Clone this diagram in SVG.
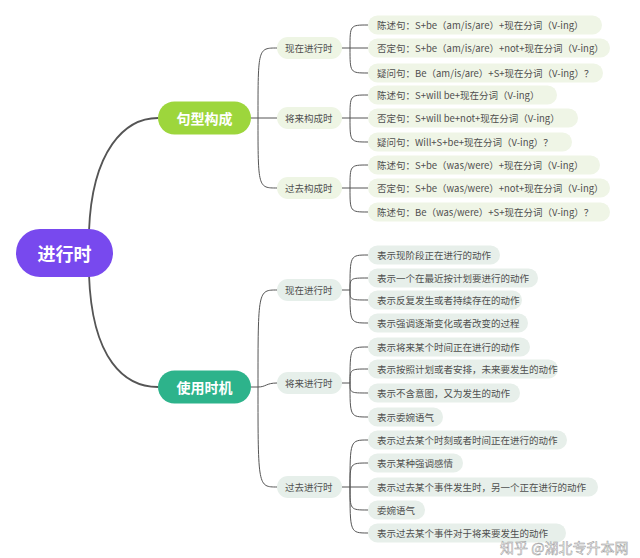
<svg xmlns="http://www.w3.org/2000/svg" width="640" height="558" viewBox="0 0 640 558">
<style>
text{font-family:"Noto Sans CJK SC","Noto Sans",sans-serif}
.c{fill:none;stroke:#555;stroke-width:1}
.r{fill:none;stroke:#555;stroke-width:1.8}
.l2a{fill:#eef5e4}
.l2b{fill:#e6efea}
.ia{fill:#eff5e6}
.ib{fill:#e7efea}
.t{font-size:9.5px;fill:#4f4f4f;dominant-baseline:central}
.t1{font-size:14px;font-weight:bold;fill:#fff;dominant-baseline:central;text-anchor:middle}
.t0{font-size:18px;font-weight:bold;fill:#fff;dominant-baseline:central;text-anchor:middle}
</style>
<rect width="640" height="558" fill="#fff"/>
<g id="connectors">
<path class="r" d="M89,231 C92,150 125,118 158,118"/>
<path class="r" d="M89,275 C92,360 125,387 158,387"/>
<path class="c" d="M251,118 H277 M258,118 C258,48 258,48 277,48 M258,118 C258,188 258,188 277,188"/>
<path class="c" d="M251,387 H258 M258,387 C258,290 258,290 277,290 M258,387 C266,387 266,383 277,383 M258,387 C258,487 258,487 277,487"/>
<path class="c" d="M342,48 H368 M350,48 C350,25 350,25 368,25 M350,48 C350,73 350,73 368,73"/>
<path class="c" d="M342,118 H368 M350,118 C350,95 350,95 368,95 M350,118 C350,142 350,142 368,142"/>
<path class="c" d="M342,188 H368 M350,188 C350,165 350,165 368,165 M350,188 C350,212 350,212 368,212"/>
<path class="c" d="M342,290 H350 M350,290 C350,255 350,255 368,255 M350,290 C350,278 350,278 368,278 M350,290 C350,300 350,300 368,300 M350,290 C350,323 350,323 368,323"/>
<path class="c" d="M342,383 H350 M350,383 C350,347 350,347 368,347 M350,383 C350,369 350,369 368,369 M350,383 C350,393 350,393 368,393 M350,383 C350,417 350,417 368,417"/>
<path class="c" d="M342,487 H368 M350,487 C350,440 350,440 368,440 M350,487 C350,463 350,463 368,463 M350,487 C350,510 350,510 368,510 M350,487 C350,533 350,533 368,533"/>
</g>
<g id="root"><rect x="16" y="229" width="97" height="48" rx="24" fill="#7849ee"/><text class="t0" x="64.5" y="253">进行时</text></g>
<g id="n-jxgc"><rect x="158" y="101.5" width="93" height="33" rx="16.5" fill="#9dd63c"/><text class="t1" x="204.5" y="118">句型构成</text></g>
<g id="n-sysj"><rect x="158" y="370.5" width="93" height="33" rx="16.5" fill="#2db38b"/><text class="t1" x="204.5" y="387">使用时机</text></g>
<g id="n-a"><rect class="l2a" x="277" y="37" width="65" height="22" rx="11"/><text class="t" x="285" y="48">现在进行时</text></g>
<g id="n-b"><rect class="l2a" x="277" y="107" width="65" height="22" rx="11"/><text class="t" x="285" y="118">将来构成时</text></g>
<g id="n-c"><rect class="l2a" x="277" y="177" width="65" height="22" rx="11"/><text class="t" x="285" y="188">过去构成时</text></g>
<g id="n-d"><rect class="l2b" x="277" y="279" width="65" height="22" rx="11"/><text class="t" x="285" y="290">现在进行时</text></g>
<g id="n-e"><rect class="l2b" x="277" y="372" width="65" height="22" rx="11"/><text class="t" x="285" y="383">将来进行时</text></g>
<g id="n-f"><rect class="l2b" x="277" y="476" width="65" height="22" rx="11"/><text class="t" x="285" y="487">过去进行时</text></g>
<g id="a1"><rect class="ia" x="368" y="15.5" width="234" height="19" rx="9.5"/><text class="t" x="377" y="25">陈述句：S+be（am/is/are）+现在分词（V-ing）</text></g>
<g id="a2"><rect class="ia" x="368" y="38.5" width="242" height="19" rx="9.5"/><text class="t" x="377" y="48">否定句：S+be（am/is/are）+not+现在分词（V-ing）</text></g>
<g id="a3"><rect class="ia" x="368" y="63.5" width="235" height="19" rx="9.5"/><text class="t" x="377" y="73">疑问句：Be（am/is/are）+S+现在分词（V-ing）？</text></g>
<g id="b1"><rect class="ia" x="368" y="85.5" width="189" height="19" rx="9.5"/><text class="t" x="377" y="95">陈述句：S+will be+现在分词（V-ing）</text></g>
<g id="b2"><rect class="ia" x="368" y="108.5" width="210" height="19" rx="9.5"/><text class="t" x="377" y="118">否定句：S+will be+not+现在分词（V-ing）</text></g>
<g id="b3"><rect class="ia" x="368" y="132.5" width="204" height="19" rx="9.5"/><text class="t" x="377" y="142">疑问句：Will+S+be+现在分词（V-ing）？</text></g>
<g id="c1"><rect class="ia" x="368" y="155.5" width="232" height="19" rx="9.5"/><text class="t" x="377" y="165">陈述句：S+be（was/were）+现在分词（V-ing）</text></g>
<g id="c2"><rect class="ia" x="368" y="178.5" width="242" height="19" rx="9.5"/><text class="t" x="377" y="188">否定句：S+be（was/were）+not+现在分词（V-ing）</text></g>
<g id="c3"><rect class="ia" x="368" y="202.5" width="242" height="19" rx="9.5"/><text class="t" x="377" y="212">陈述句：Be（was/were）+S+现在分词（V-ing）？</text></g>
<g id="d1"><rect class="ib" x="368" y="245.5" width="132" height="19" rx="9.5"/><text class="t" x="377" y="255">表示现阶段正在进行的动作</text></g>
<g id="d2"><rect class="ib" x="368" y="268.5" width="170" height="19" rx="9.5"/><text class="t" x="377" y="278">表示一个在最近按计划要进行的动作</text></g>
<g id="d3"><rect class="ib" x="368" y="290.5" width="154" height="19" rx="9.5"/><text class="t" x="377" y="300">表示反复发生或者持续存在的动作</text></g>
<g id="d4"><rect class="ib" x="368" y="313.5" width="160" height="19" rx="9.5"/><text class="t" x="377" y="323">表示强调逐渐变化或者改变的过程</text></g>
<g id="e1"><rect class="ib" x="368" y="337.5" width="162" height="19" rx="9.5"/><text class="t" x="377" y="347">表示将来某个时间正在进行的动作</text></g>
<g id="e2"><rect class="ib" x="368" y="359.5" width="190" height="19" rx="9.5"/><text class="t" x="377" y="369">表示按照计划或者安排，未来要发生的动作</text></g>
<g id="e3"><rect class="ib" x="368" y="383.5" width="152" height="19" rx="9.5"/><text class="t" x="377" y="393">表示不含意图，又为发生的动作</text></g>
<g id="e4"><rect class="ib" x="368" y="407.5" width="75" height="19" rx="9.5"/><text class="t" x="377" y="417">表示委婉语气</text></g>
<g id="f1"><rect class="ib" x="368" y="430.5" width="199" height="19" rx="9.5"/><text class="t" x="377" y="440">表示过去某个时刻或者时间正在进行的动作</text></g>
<g id="f2"><rect class="ib" x="368" y="453.5" width="95" height="19" rx="9.5"/><text class="t" x="377" y="463">表示某种强调感情</text></g>
<g id="f3"><rect class="ib" x="368" y="477.5" width="230" height="19" rx="9.5"/><text class="t" x="377" y="487">表示过去某个事件发生时，另一个正在进行的动作</text></g>
<g id="f4"><rect class="ib" x="368" y="500.5" width="57" height="19" rx="9.5"/><text class="t" x="377" y="510">委婉语气</text></g>
<g id="f5"><rect class="ib" x="368" y="523.5" width="198" height="19" rx="9.5"/><text class="t" x="377" y="533">表示过去某个事件对于将来要发生的动作</text></g>
<text x="500" y="553" font-size="14" fill="#fff" fill-opacity="0.75" stroke="#9a9a9a" stroke-width="0.5">知乎 @湖北专升本网</text>
</svg>
